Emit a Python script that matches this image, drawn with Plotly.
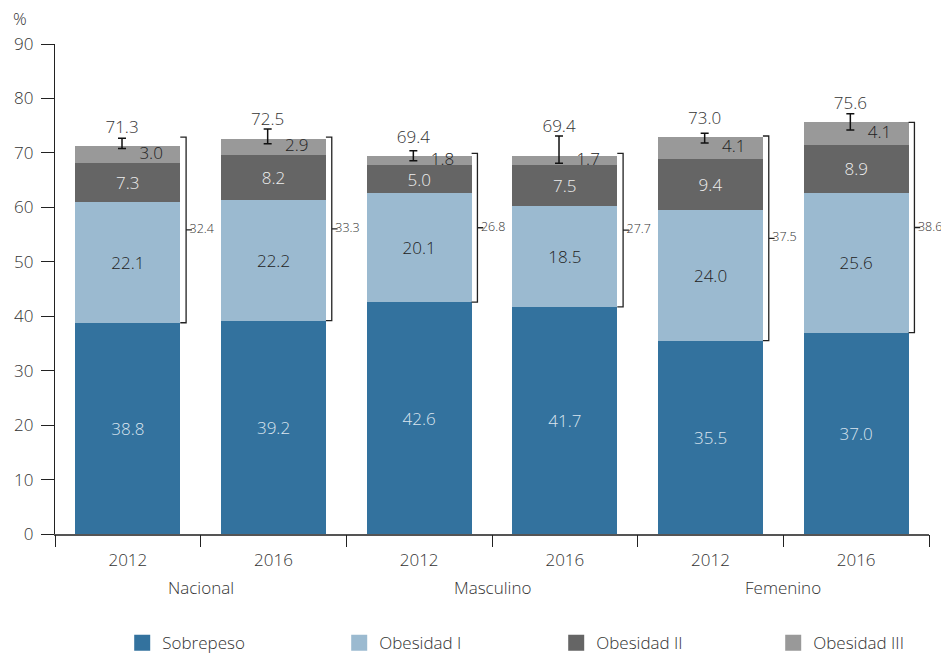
import plotly.graph_objects as go

groups = ["Nacional", "Masculino", "Femenino"]
years = ["2012", "2016", "2012", "2016", "2012", "2016"]
series_names = ["Sobrepeso", "Obesidad I", "Obesidad II", "Obesidad III"]
sobrepeso = [38.8, 39.2, 42.6, 41.7, 35.5, 37.0]
obesidad1 = [22.1, 22.2, 20.1, 18.5, 24.0, 25.6]
obesidad2 = [7.3, 8.2, 5.0, 7.5, 9.4, 8.9]
obesidad3 = [3.0, 2.9, 1.8, 1.7, 4.1, 4.1]
total_labels = [71.3, 72.5, 69.4, 69.4, 73.0, 75.6]
err_plus = [1.5, 1.9, 0.9, 3.7, 0.6, 1.6]
err_minus = [0.4, 0.8, 0.95, 1.3, 1.2, 1.4]
obesity_totals = [32.4, 33.3, 26.8, 27.7, 37.5, 38.6]
bracket_top = [72.9, 72.9, 69.9, 69.9, 73.1, 75.6]

C_SOB = "#33729e"
C_O1 = "#9bbad0"
C_O2 = "#656565"
C_O3 = "#999999"
COLORS = [C_SOB, C_O1, C_O2, C_O3]
FONT = "Open Sans"
FS = 17
FW = 300

xs = list(range(len(years)))
BW = 0.72

def fmt(v):
    return f"{v:.1f}"

def font(color="#333333", size=FS):
    return dict(color=color, size=size, family=FONT, weight=FW)

fig = go.Figure()
bar_specs = [
    (series_names[0], sobrepeso, C_SOB, "#dbe5ef"),
    (series_names[1], obesidad1, C_O1, "#222222"),
    (series_names[2], obesidad2, C_O2, "#eeeeee"),
]
for name, vals, col, tcol in bar_specs:
    fig.add_trace(go.Bar(x=xs, y=vals, width=BW, name=name, marker=dict(color=col, line=dict(width=0)),
                         text=[fmt(v) for v in vals], textposition="inside", insidetextanchor="middle",
                         constraintext="none", cliponaxis=False, showlegend=False,
                         textangle=0, textfont=font(tcol)))
fig.add_trace(go.Bar(x=xs, y=obesidad3, width=BW, name=series_names[3], marker=dict(color=C_O3, line=dict(width=0)),
                     textposition="none", showlegend=False))

# legend entries with large square swatches
for name, col in zip(series_names, COLORS):
    fig.add_trace(go.Scatter(x=[None], y=[None], mode="markers", name=name,
                             marker=dict(symbol="square", size=22, color=col, line=dict(width=0))))

base3 = [a + b + c for a, b, c in zip(sobrepeso, obesidad1, obesidad2)]
totals = [b + d for b, d in zip(base3, obesidad3)]

# Obesidad III labels, shifted right
fig.add_trace(go.Scatter(x=[x + 0.16 for x in xs], y=[b + d / 2 for b, d in zip(base3, obesidad3)],
                         mode="text", text=[fmt(v) for v in obesidad3],
                         textfont=font("#222222"), showlegend=False, hoverinfo="skip"))

# error bars
ex = [x - 0.04 for x in xs]
fig.add_trace(go.Scatter(x=ex, y=totals, mode="markers", marker=dict(size=1, opacity=0),
                         error_y=dict(type="data", symmetric=False, array=err_plus, arrayminus=err_minus,
                                      color="#111111", thickness=1.5, width=4),
                         showlegend=False, hoverinfo="skip"))
fig.add_trace(go.Scatter(x=ex, y=[max(t + p, t + 1.6) for t, p in zip(totals, err_plus)], mode="text",
                         text=[fmt(v) for v in total_labels], textposition="top center",
                         textfont=font(), showlegend=False, hoverinfo="skip"))

# brackets
d = 0.04
for i in xs:
    edge = i + BW / 2
    bx = edge + d
    bot = sobrepeso[i]
    top = bracket_top[i]
    mid = (bot + top) / 2
    fig.add_trace(go.Scatter(x=[edge, bx, bx, bx + d, bx, bx, edge], y=[bot, bot, mid, mid, mid, top, top],
                             mode="lines", line=dict(color="#222222", width=1.3), xaxis="x2",
                             showlegend=False, hoverinfo="skip"))
fig.add_trace(go.Scatter(x=[i + BW / 2 + 1.6 * d for i in xs],
                         y=[(sobrepeso[i] + bracket_top[i]) / 2 for i in xs], mode="text",
                         text=[fmt(v) for v in obesity_totals], textposition="middle right",
                         textfont=font("#333333", 12.5), xaxis="x2",
                         showlegend=False, hoverinfo="skip", cliponaxis=False))

annotations = []
for g, gname in enumerate(groups):
    annotations.append(dict(x=2 * g + 0.5, y=-0.11, xref="x", yref="paper", text=gname, showarrow=False,
                            font=font(), yanchor="middle"))
annotations.append(dict(x=-0.04, y=1.053, xref="paper", yref="paper", text="%", showarrow=False,
                        font=font(), xanchor="center", yanchor="middle"))

rng = [-0.5, len(xs) - 0.5]
fig.update_layout(
    barmode="stack",
    width=949, height=655,
    margin=dict(l=47, r=28, t=36, b=129, autoexpand=False),
    paper_bgcolor="white", plot_bgcolor="white",
    font=font(),
    xaxis=dict(range=rng, tickvals=xs, ticktext=years, ticks="outside", ticklen=10,
               tickcolor="rgba(0,0,0,0)", showgrid=False, zeroline=False, showline=True,
               linecolor="#555555", linewidth=1.5, tickfont=font()),
    xaxis2=dict(range=rng, overlaying="x", anchor="y", side="bottom",
                tickvals=[x - 0.5 for x in xs] + [len(xs) - 0.5], ticks="outside", ticklen=12,
                tickcolor="#222222", tickwidth=1, showticklabels=False, showgrid=False, zeroline=False,
                showline=False),
    yaxis=dict(range=[0, 90], tickvals=list(range(0, 91, 10)), ticks="outside", ticklen=13,
               tickcolor="#222222", showgrid=False, zeroline=False, showline=True,
               linecolor="#222222", linewidth=1.2, tickfont=font(),
               ticklabelstandoff=4),
    legend=dict(orientation="h", x=0.0769, xanchor="left", y=-0.186, yanchor="top",
                font=font(), entrywidth=172,
                entrywidthmode="pixels", traceorder="normal", itemsizing="trace"),
    annotations=annotations,
    showlegend=True,
)

fig.write_html("out.html")
